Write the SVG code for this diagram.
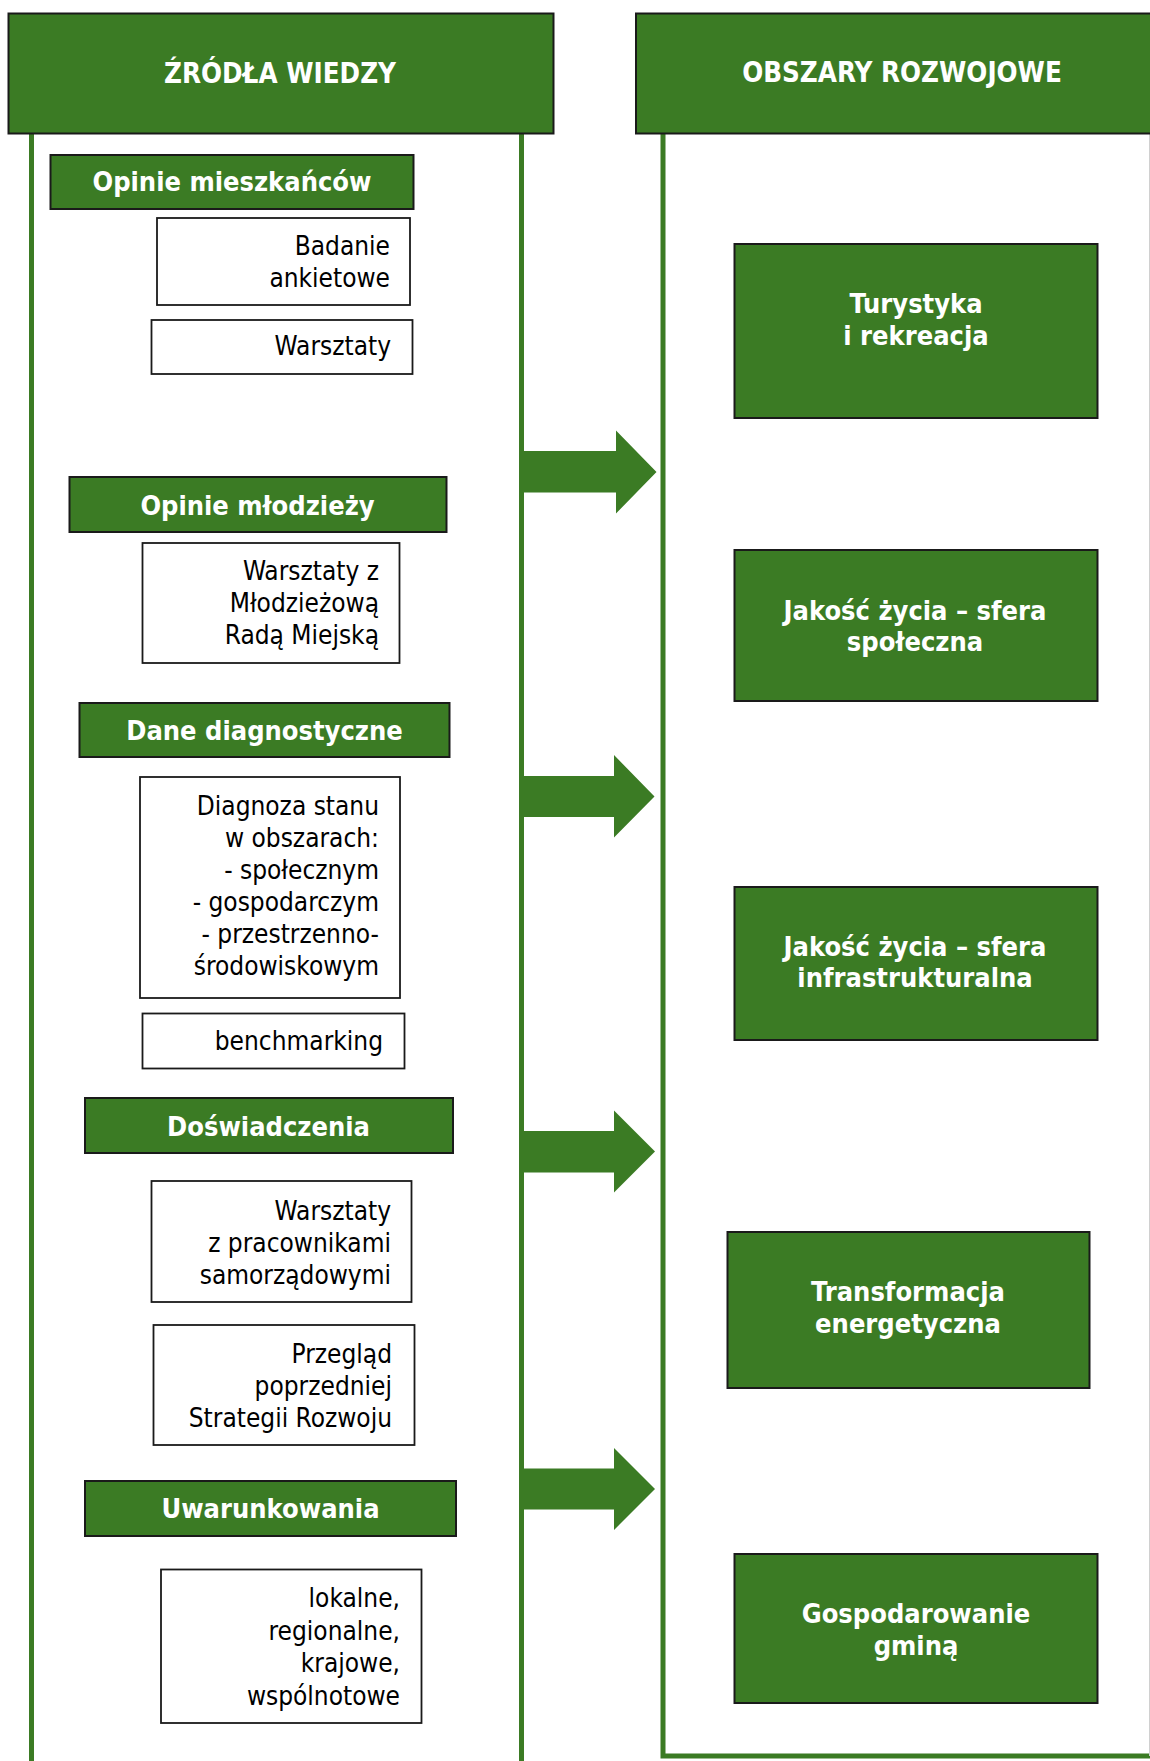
<svg xmlns="http://www.w3.org/2000/svg" width="1150" height="1761" viewBox="0 0 1150 1761">
<style>
.g{fill:#3b7b24;stroke:#1a1a1a;stroke-width:2}
.w{fill:#ffffff;stroke:#1a1a1a;stroke-width:1.8}
.col{stroke:#3b7b24;stroke-width:5;fill:none}
.arr{fill:#3b7b24}
.h{font-family:"DejaVu Sans Condensed","DejaVu Sans",sans-serif;font-weight:bold;font-size:27px;fill:#ffffff;text-anchor:middle}
.hh{font-size:27.5px}
.t{font-family:"DejaVu Sans Condensed","DejaVu Sans",sans-serif;font-size:26px;fill:#000000;text-anchor:end}
</style>
<rect width="1150" height="1761" fill="#ffffff"/>
<g id="columns">
<line class="col" x1="31.5" y1="133" x2="31.5" y2="1761"/>
<line class="col" x1="521.5" y1="133" x2="521.5" y2="1761"/>
<polyline class="col" points="663,133 663,1756 1160,1756"/>
<line x1="1149.5" y1="133" x2="1149.5" y2="1756" stroke="#d0d0d0" stroke-width="1"/>
</g>
<g id="header-left"><rect class="g" x="8.5" y="13.5" width="545" height="120"/><text class="h hh" x="280" y="83">ŹRÓDŁA WIEDZY</text></g>
<g id="header-right"><rect class="g" x="636" y="13.5" width="530" height="120"/><text class="h hh" x="902" y="82">OBSZARY ROZWOJOWE</text></g>

<g id="opinie-mieszkancow"><rect class="g" x="50.5" y="155" width="363" height="54"/><text class="h" x="232" y="191">Opinie mieszkańców</text></g>
<g id="badanie"><rect class="w" x="157" y="218" width="253" height="87"/><text class="t" x="390" y="255">Badanie</text><text class="t" x="390" y="287">ankietowe</text></g>
<g id="warsztaty1"><rect class="w" x="151.5" y="320" width="261" height="54"/><text class="t" x="391" y="355">Warsztaty</text></g>

<g id="opinie-mlodziezy"><rect class="g" x="69.5" y="477" width="377" height="55"/><text class="h" x="257.5" y="515">Opinie młodzieży</text></g>
<g id="warsztaty-mrm"><rect class="w" x="142.5" y="543" width="257" height="120"/><text class="t" x="379" y="580">Warsztaty z</text><text class="t" x="379" y="612">Młodzieżową</text><text class="t" x="379" y="644">Radą Miejską</text></g>

<g id="dane"><rect class="g" x="79.5" y="703" width="370" height="54"/><text class="h" x="264.5" y="740">Dane diagnostyczne</text></g>
<g id="diagnoza"><rect class="w" x="140" y="777" width="260" height="221"/>
<text class="t" x="379" y="815">Diagnoza stanu</text><text class="t" x="379" y="847">w obszarach:</text><text class="t" x="379" y="879">- społecznym</text><text class="t" x="379" y="911">- gospodarczym</text><text class="t" x="379" y="943">- przestrzenno-</text><text class="t" x="379" y="975">środowiskowym</text></g>
<g id="benchmarking"><rect class="w" x="142.5" y="1013.5" width="262" height="55"/><text class="t" x="383" y="1050">benchmarking</text></g>

<g id="doswiadczenia"><rect class="g" x="85" y="1098" width="368" height="55"/><text class="h" x="268.5" y="1136">Doświadczenia</text></g>
<g id="warsztaty-prac"><rect class="w" x="151.5" y="1181" width="260" height="121"/><text class="t" x="391" y="1220">Warsztaty</text><text class="t" x="391" y="1252">z pracownikami</text><text class="t" x="391" y="1284">samorządowymi</text></g>
<g id="przeglad"><rect class="w" x="153.5" y="1325" width="261" height="120"/><text class="t" x="392" y="1363">Przegląd</text><text class="t" x="392" y="1395">poprzedniej</text><text class="t" x="392" y="1427">Strategii Rozwoju</text></g>

<g id="uwarunkowania"><rect class="g" x="85" y="1481" width="371" height="55"/><text class="h" x="270.5" y="1518">Uwarunkowania</text></g>
<g id="lokalne"><rect class="w" x="161" y="1569.5" width="260.5" height="153.5"/><text class="t" x="400" y="1607">lokalne,</text><text class="t" x="400" y="1640">regionalne,</text><text class="t" x="400" y="1672">krajowe,</text><text class="t" x="400" y="1705">wspólnotowe</text></g>

<g id="turystyka"><rect class="g" x="734.5" y="244" width="363" height="174"/><text class="h" x="916" y="313">Turystyka</text><text class="h" x="916" y="345">i rekreacja</text></g>
<g id="jakosc-spoleczna"><rect class="g" x="734.5" y="550" width="363" height="151"/><text class="h" x="915" y="620">Jakość życia – sfera</text><text class="h" x="915" y="651">społeczna</text></g>
<g id="jakosc-infra"><rect class="g" x="734.5" y="887" width="363" height="153"/><text class="h" x="915" y="956">Jakość życia – sfera</text><text class="h" x="915" y="987">infrastrukturalna</text></g>
<g id="transformacja"><rect class="g" x="727.5" y="1232" width="362" height="156"/><text class="h" x="908" y="1301">Transformacja</text><text class="h" x="908" y="1333">energetyczna</text></g>
<g id="gospodarowanie"><rect class="g" x="734.5" y="1554" width="363" height="149"/><text class="h" x="916" y="1623">Gospodarowanie</text><text class="h" x="916" y="1655">gminą</text></g>

<g id="connectors">
<polygon class="arr" points="524,451 616,451 616,430.5 656.5,472 616,513.5 616,492.5 524,492.5"/>
<polygon class="arr" points="524,776 614,776 614,755 654.5,796.5 614,837.5 614,817 524,817"/>
<polygon class="arr" points="524,1131 614,1131 614,1110.5 655,1151.5 614,1192.5 614,1172.5 524,1172.5"/>
<polygon class="arr" points="524,1468.5 614,1468.5 614,1448 655,1489 614,1530 614,1509.5 524,1509.5"/>
</g>
</svg>
